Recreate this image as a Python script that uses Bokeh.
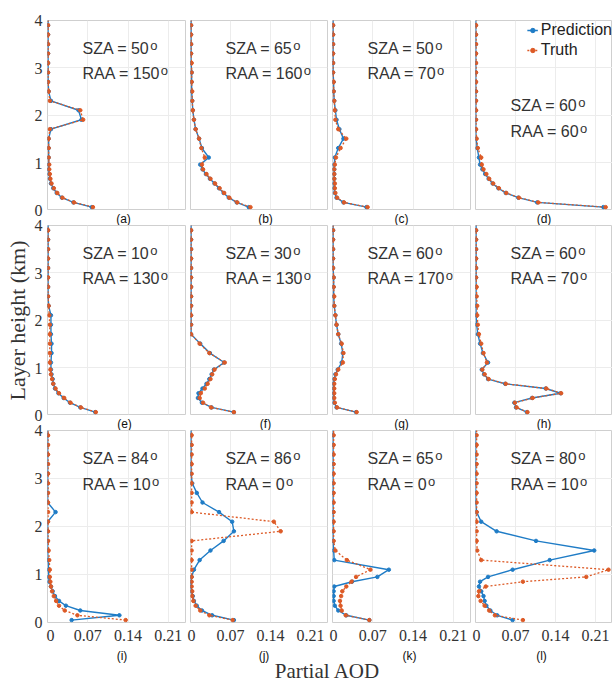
from bokeh.plotting import figure
from bokeh.models import (Range1d, FixedTicker, Grid, Label, Legend, LegendItem,
                          ColumnDataSource, Title)
from bokeh.layouts import column, row
from bokeh.embed import file_html
from bokeh.resources import INLINE

# ---------------- data ----------------
heights_km = [0.05, 0.15, 0.25, 0.35, 0.45, 0.55, 0.65, 0.75, 0.85, 0.95,
              1.1, 1.3, 1.5, 1.7, 1.9, 2.1, 2.3, 2.5, 2.7, 2.9, 3.1, 3.3,
              3.5, 3.7, 3.9, 4.1]

x_ticks = [0, 0.07, 0.14, 0.21]
x_tick_labels = ["0", "0.07", "0.14", "0.21"]
y_ticks = [0, 1, 2, 3, 4]

panel_letters = ["(a)", "(b)", "(c)", "(d)", "(e)", "(f)",
                 "(g)", "(h)", "(i)", "(j)", "(k)", "(l)"]
sza_deg = [50, 65, 50, 60, 10, 30, 60, 60, 84, 86, 65, 80]
raa_deg = [150, 160, 70, 60, 130, 130, 170, 70, 10, 0, 0, 10]

truth_a = [0.079, 0.046, 0.026, 0.017, 0.011, 0.007, 0.005, 0.004, 0.003, 0.003,
           0.002, 0.002, 0.002, 0.004, 0.062, 0.057, 0.004, 0.002, 0.001, 0.001,
           0.001, 0.001, 0.001, 0.001, 0.001, 0.001]
pred_a = [0.077, 0.045, 0.025, 0.016, 0.010, 0.006, 0.004, 0.003, 0.002, 0.002,
          0.002, 0.002, 0.002, 0.006, 0.059, 0.054, 0.006, 0.002, 0.001, 0.001,
          0.001, 0.001, 0.001, 0.001, 0.001, 0.001]

truth_b = [0.105, 0.082, 0.068, 0.059, 0.051, 0.043, 0.035, 0.028, 0.022, 0.020,
           0.025, 0.019, 0.015, 0.009, 0.006, 0.004, 0.003, 0.003, 0.002, 0.002,
           0.002, 0.001, 0.001, 0.001, 0.001, 0.001]
pred_b = [0.102, 0.081, 0.067, 0.058, 0.050, 0.042, 0.034, 0.027, 0.021, 0.017,
          0.032, 0.020, 0.015, 0.009, 0.006, 0.004, 0.003, 0.002, 0.002, 0.002,
          0.001, 0.001, 0.001, 0.001, 0.001, 0.001]

truth_c = [0.061, 0.020, 0.008, 0.005, 0.004, 0.004, 0.003, 0.003, 0.003, 0.004,
           0.006, 0.014, 0.024, 0.010, 0.005, 0.004, 0.003, 0.002, 0.002, 0.001,
           0.001, 0.001, 0.001, 0.001, 0.001, 0.001]
pred_c = [0.059, 0.019, 0.007, 0.004, 0.003, 0.003, 0.003, 0.003, 0.003, 0.003,
          0.004, 0.010, 0.019, 0.012, 0.007, 0.005, 0.003, 0.002, 0.002, 0.001,
          0.001, 0.001, 0.001, 0.001, 0.001, 0.001]

truth_d = [0.228, 0.110, 0.076, 0.054, 0.041, 0.031, 0.024, 0.019, 0.014, 0.011,
           0.010, 0.004, 0.002, 0.001, 0.001, 0.001, 0.001, 0.001, 0.001, 0.001,
           0.001, 0.001, 0.001, 0.001, 0.001, 0.001]
pred_d = [0.224, 0.108, 0.075, 0.053, 0.040, 0.030, 0.023, 0.017, 0.012, 0.008,
          0.006, 0.003, 0.001, 0.0005, 0.0005, 0.0005, 0.0005, 0.0005, 0.0005, 0.0005,
          0.0005, 0.0005, 0.0005, 0.0005, 0.0005, 0.0005]

truth_e = [0.084, 0.058, 0.040, 0.029, 0.020, 0.014, 0.010, 0.008, 0.006, 0.005,
           0.004, 0.004, 0.004, 0.004, 0.004, 0.003, 0.002, 0.001, 0.001, 0.001,
           0.001, 0.001, 0.001, 0.001, 0.001, 0.001]
pred_e = [0.083, 0.057, 0.039, 0.028, 0.019, 0.013, 0.010, 0.009, 0.007, 0.006,
          0.006, 0.007, 0.007, 0.006, 0.006, 0.006, 0.002, 0.001, 0.001, 0.001,
          0.001, 0.001, 0.001, 0.001, 0.001, 0.001]

truth_f = [0.076, 0.036, 0.022, 0.016, 0.018, 0.025, 0.030, 0.035, 0.038, 0.042,
           0.060, 0.033, 0.016, 0.001, 0.001, 0.001, 0.001, 0.001, 0.001, 0.001,
           0.001, 0.001, 0.001, 0.001, 0.001, 0.001]
pred_f = [0.076, 0.037, 0.020, 0.013, 0.014, 0.021, 0.028, 0.033, 0.037, 0.041,
          0.059, 0.034, 0.017, 0.001, 0.001, 0.001, 0.001, 0.001, 0.001, 0.001,
          0.001, 0.001, 0.001, 0.001, 0.001, 0.001]

truth_g = [0.042, 0.008, 0.004, 0.003, 0.003, 0.003, 0.003, 0.004, 0.006, 0.010,
           0.018, 0.019, 0.016, 0.010, 0.007, 0.005, 0.003, 0.003, 0.002, 0.002,
           0.001, 0.001, 0.001, 0.001, 0.001, 0.001]
pred_g = [0.041, 0.007, 0.003, 0.002, 0.002, 0.002, 0.002, 0.003, 0.005, 0.009,
          0.016, 0.018, 0.015, 0.010, 0.007, 0.005, 0.003, 0.002, 0.002, 0.002,
          0.001, 0.001, 0.001, 0.001, 0.001, 0.001]

truth_h = [0.091, 0.072, 0.069, 0.100, 0.150, 0.124, 0.053, 0.023, 0.016, 0.012,
           0.020, 0.014, 0.010, 0.006, 0.004, 0.003, 0.003, 0.002, 0.002, 0.001,
           0.001, 0.001, 0.001, 0.001, 0.001, 0.001]
pred_h = [0.090, 0.071, 0.068, 0.099, 0.149, 0.123, 0.052, 0.022, 0.015, 0.011,
          0.022, 0.013, 0.008, 0.004, 0.002, 0.001, 0.001, 0.001, 0.001, 0.001,
          0.001, 0.001, 0.001, 0.001, 0.001, 0.001]

truth_i = [0.136, 0.052, 0.030, 0.020, 0.015, 0.011, 0.008, 0.006, 0.005, 0.004,
           0.004, 0.003, 0.002, 0.001, 0.001, 0.001, 0.001, 0.001, 0.001, 0.001,
           0.001, 0.001, 0.001, 0.001, 0.001, 0.001]
pred_i = [0.042, 0.125, 0.057, 0.032, 0.020, 0.013, 0.009, 0.006, 0.003, 0.002,
          0.002, 0.001, 0.0003, 0.0003, 0.0003, 0.0003, 0.014, 0.0003, 0.0003, 0.0003,
          0.0003, 0.0003, 0.0003, 0.0003, 0.0003, 0.0003]

truth_j = [0.074, 0.033, 0.017, 0.009, 0.005, 0.003, 0.003, 0.002, 0.002, 0.002,
           0.002, 0.002, 0.002, 0.002, 0.158, 0.146, 0.002, 0.002, 0.002, 0.002,
           0.002, 0.002, 0.002, 0.002, 0.002, 0.002]
pred_j = [0.076, 0.038, 0.020, 0.011, 0.006, 0.004, 0.002, 0.001, 0.001, 0.002,
          0.006, 0.016, 0.035, 0.058, 0.076, 0.073, 0.050, 0.021, 0.011, 0.003,
          0.001, 0.001, 0.001, 0.001, 0.001, 0.001]

truth_k = [0.064, 0.023, 0.016, 0.014, 0.013, 0.015, 0.017, 0.024, 0.033, 0.041,
           0.066, 0.025, 0.005, 0.002, 0.002, 0.002, 0.002, 0.002, 0.002, 0.002,
           0.002, 0.002, 0.002, 0.002, 0.002, 0.002]
pred_k = [0.064, 0.024, 0.010, 0.004, 0.002, 0.002, 0.002, 0.003, 0.034, 0.078,
          0.098, 0.003, 0.002, 0.001, 0.001, 0.001, 0.001, 0.001, 0.001, 0.001,
          0.001, 0.001, 0.001, 0.001, 0.001, 0.001]

truth_l = [0.083, 0.034, 0.024, 0.016, 0.009, 0.005, 0.006, 0.018, 0.083, 0.194,
           0.233, 0.010, 0.003, 0.002, 0.002, 0.002, 0.002, 0.002, 0.002, 0.002,
           0.002, 0.002, 0.002, 0.002, 0.002, 0.002]
pred_l = [0.065, 0.038, 0.026, 0.019, 0.016, 0.014, 0.010, 0.006, 0.008, 0.022,
          0.065, 0.130, 0.208, 0.106, 0.037, 0.010, 0.002, 0.0003, 0.0003, 0.0003,
          0.0003, 0.0003, 0.0003, 0.0003, 0.0003, 0.0003]

preds = [pred_a, pred_b, pred_c, pred_d, pred_e, pred_f,
         pred_g, pred_h, pred_i, pred_j, pred_k, pred_l]
truths = [truth_a, truth_b, truth_c, truth_d, truth_e, truth_f,
          truth_g, truth_h, truth_i, truth_j, truth_k, truth_l]

# ---------------- style / layout ----------------
BLUE = "#1f7cc6"
ORANGE = "#dd5a26"
TXT = "#333333"
XMAX, YMAX = 0.24, 4.0
AXW = 46                       # width of the y-axis strip
FW = [138, 137, 138, 137]
FH = [190, 190, 192]
BL = [1, 3, 3, 3]
BR = [2, 2, 2, 0]
BT = [20, 0, 0]
BB = [15, 15, 26]
AX_BT = [20, 7, 7]
AX_BB = [8, 8, 26]
BOTTOM_H = 680 - sum(BT[r] + FH[r] + BB[r] for r in range(3))
letter_dx = [7, 6.5, 0, 0, 8, 6.5, 0, 0, 5.5, 5, 8, -2.5]

ARIAL = {"S": .667, "Z": .611, "A": .667, "R": .722, " ": .278, "=": .584,
         "(": .333, ")": .333, "f": .278, "i": .222, "j": .222, "l": .222,
         "c": .5, "k": .5}


def text_w(s, size):
    return sum(ARIAL.get(ch, 0.556) for ch in s) * size


def style_text_axis(ax):
    ax.major_label_text_font = "Liberation Serif"
    ax.major_label_text_font_size = "16px"
    ax.major_label_text_color = TXT
    ax.axis_line_color = None
    ax.major_tick_line_color = None
    ax.minor_tick_line_color = None
    ax.major_tick_in = 0
    ax.major_tick_out = 0


# ----- y-axis strip -----
axis_figs = []
for r in range(3):
    a = figure(title=None, width=AXW, height=AX_BT[r] + FH[r] + AX_BB[r],
               x_range=Range1d(0, 1), y_range=Range1d(0, YMAX),
               x_axis_location=None, y_axis_location="left",
               min_border_left=AXW - 1, min_border_right=0,
               min_border_top=AX_BT[r], min_border_bottom=AX_BB[r],
               output_backend="svg", toolbar_location=None)
    a.outline_line_color = None
    a.center = []
    ax = a.yaxis[0]
    ax.ticker = FixedTicker(ticks=y_ticks)
    style_text_axis(ax)
    ax.major_label_standoff = 3
    if r == 1:
        ax.axis_label = "Layer height (km)"
        ax.axis_label_text_font = "Liberation Serif"
        ax.axis_label_text_font_size = "22px"
        ax.axis_label_text_font_style = "normal"
        ax.axis_label_text_color = TXT
        ax.axis_label_standoff = 2
    axis_figs.append(a)

# frame left positions on the page (used for the bottom caption strip)
frame_left = []
xpos = AXW
for c in range(4):
    frame_left.append(xpos + BL[c])
    xpos += BL[c] + FW[c] + BR[c]

# ----- panels -----
cols = [[], [], [], []]
for k in range(12):
    r, c = divmod(k, 4)
    p = figure(title=None, width=BL[c] + FW[c] + BR[c], height=BT[r] + FH[r] + BB[r],
               x_range=Range1d(0, XMAX), y_range=Range1d(0, YMAX),
               x_axis_location="below" if r == 2 else None,
               y_axis_location=None,
               min_border_left=BL[c], min_border_right=BR[c],
               min_border_top=BT[r], min_border_bottom=BB[r],
               output_backend="svg", toolbar_location=None,
               background_fill_color="white", border_fill_color="white")
    p.outline_line_color = "#cfcfcf"
    p.outline_line_width = 1
    p.center = [m for m in p.center if not isinstance(m, Grid)]
    p.add_layout(Grid(dimension=0, ticker=FixedTicker(ticks=x_ticks[1:]),
                      grid_line_color="#ececec", grid_line_width=1))
    p.add_layout(Grid(dimension=1, ticker=FixedTicker(ticks=y_ticks[1:-1]),
                      grid_line_color="#ececec", grid_line_width=1))

    if r == 2:
        ax = p.xaxis[0]
        ax.ticker = FixedTicker(ticks=x_ticks)
        ax.major_label_overrides = dict(zip(x_ticks, x_tick_labels))
        style_text_axis(ax)
        ax.major_label_standoff = 7

    src = ColumnDataSource(dict(h=heights_km, pred=preds[k], truth=truths[k]))
    lp = p.line("pred", "h", source=src, line_color=BLUE, line_width=1.4)
    sp = p.scatter("pred", "h", source=src, color=BLUE, size=3.5)
    lt = p.line("truth", "h", source=src, line_color=ORANGE, line_width=1.3,
                line_dash="2 2")
    st = p.scatter("truth", "h", source=src, color=ORANGE, size=3.5)

    # SZA / RAA annotation (vertical centre of each line, in km)
    tx = 35 * XMAX / FW[c]
    y1, y2 = (2.20, 1.66) if k == 3 else (3.41, 2.88)
    for s, yy in ((f"SZA = {sza_deg[k]}", y1), (f"RAA = {raa_deg[k]}", y2)):
        p.add_layout(Label(x=tx, y=yy, text=s, text_font="Liberation Sans",
                           text_font_size="16px", text_color=TXT,
                           text_baseline="middle"))
        p.add_layout(Label(x=tx, y=yy, x_offset=text_w(s, 16) + 0.5, y_offset=3,
                           text="o", text_font="Liberation Sans",
                           text_font_size="13px", text_color=TXT,
                           text_baseline="middle"))

    # panel letter under the frame (rows 1-2: a title placed below)
    if r < 2:
        lw = text_w(panel_letters[k], 12)
        p.add_layout(Title(text=panel_letters[k], align="left",
                           offset=FW[c] / 2 + letter_dx[k] - lw / 2,
                           standoff=0, text_font="Liberation Sans",
                           text_font_size="12px", text_font_style="normal",
                           text_color="#111111"), "below")

    if k == 3:
        leg = Legend(items=[LegendItem(label="Prediction", renderers=[lp, sp]),
                            LegendItem(label="Truth", renderers=[lt, st])],
                     location="top_right", margin=0, padding=6, spacing=0,
                     glyph_width=11, glyph_height=12, label_standoff=3,
                     label_height=20,
                     label_text_font="Liberation Sans", label_text_font_size="16px",
                     label_text_color="#222222", border_line_color=None,
                     background_fill_alpha=0)
        p.add_layout(leg)
    cols[c].append(p)

top = row(column(*axis_figs), *[column(*cl) for cl in cols])

# ----- caption strip: bottom-row panel letters and the shared x label -----
bottom = figure(title=None, width=612, height=BOTTOM_H,
                x_range=Range1d(0, 612), y_range=Range1d(0, BOTTOM_H),
                x_axis_location=None, y_axis_location=None,
                min_border_left=0, min_border_right=0, min_border_top=0,
                min_border_bottom=0, output_backend="svg", toolbar_location=None)
bottom.outline_line_color = None
bottom.center = []
for c in range(4):
    k = 8 + c
    bottom.add_layout(Label(x=frame_left[c] + FW[c] / 2 + letter_dx[k],
                            y=BOTTOM_H - 7.5, text=panel_letters[k],
                            text_align="center", text_baseline="middle",
                            text_font="Liberation Sans", text_font_size="12px",
                            text_color="#111111"))
bottom.add_layout(Label(x=327, y=9.5, text="Partial AOD",
                        text_align="center", text_baseline="middle",
                        text_font="Liberation Serif",
                        text_font_size="21px", text_color=TXT))

layout = column(top, bottom)
open("out.html", "w").write(file_html(layout, INLINE, title="AOD profiles"))
